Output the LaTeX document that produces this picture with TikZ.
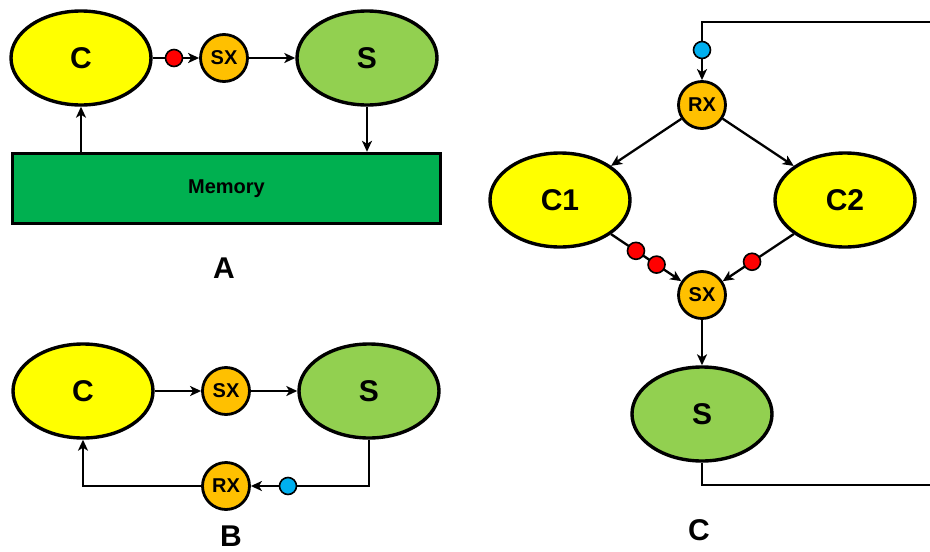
\documentclass[tikz,border=0pt]{standalone}
\usepackage{fontspec}
\setmainfont{Liberation Sans}
\usetikzlibrary{shapes.geometric,arrows.meta,calc}
\definecolor{cyel}{HTML}{FFFF00}
\definecolor{cgrn}{HTML}{92D050}
\definecolor{corg}{HTML}{FFC000}
\definecolor{cmem}{HTML}{00B050}
\definecolor{cred}{HTML}{FF0000}
\definecolor{cblu}{HTML}{00B0F0}
\tikzset{
  big/.style={ellipse,draw=black,line width=3.4pt,minimum width=140pt,minimum height=94pt,inner sep=0pt,font=\fontsize{30}{32}\selectfont\bfseries},
  cnode/.style={big,fill=cyel},
  snode/.style={big,fill=cgrn},
  xnode/.style={circle,draw=black,line width=2.8pt,fill=corg,minimum size=47pt,inner sep=0pt,font=\fontsize{20}{22}\selectfont\bfseries},
  dot/.style={circle,draw=black,line width=1.6pt,minimum size=17pt,inner sep=0pt},
  rdot/.style={dot,fill=cred},
  bdot/.style={dot,fill=cblu},
  arr/.style={line width=2.3pt,-{Stealth[length=11pt,width=10pt,inset=3pt]}},
  lab/.style={inner sep=0pt,font=\fontsize{30}{32}\selectfont\bfseries}
}
\begin{document}
\begin{tikzpicture}[x=1pt,y=-1pt]
\path[use as bounding box] (0,0) rectangle (930,552);
\clip (0,0) rectangle (930,552);
% ---------- Panel A ----------
\node[cnode] (Ca) at (81,58) {C};
\node[xnode] (SXa) at (224,58) {SX};
\node[snode] (Sa) at (367,58) {S};
\node[draw=black,line width=3.4pt,fill=cmem,minimum width=428pt,minimum height=70pt,inner sep=0pt,font=\fontsize{20}{22}\selectfont\bfseries] (Mem) at (226.5,188.5) {\raisebox{2pt}{Memory}};
\draw[arr] (Ca) -- (SXa);
\draw[arr] (SXa) -- (Sa);
\draw[arr] (Mem.north -| Ca) -- (Ca.south);
\draw[arr] (Sa.south) -- (Sa.south |- Mem.north);
\node[rdot] (ra) at (174,58) {};
\node[lab] (LA) at (224,268) {A};
% ---------- Panel B ----------
\node[cnode] (Cb) at (83,391) {C};
\node[xnode] (SXb) at (226,391) {SX};
\node[snode] (Sb) at (369,391) {S};
\node[xnode] (RXb) at (226,486) {RX};
\draw[arr] (Cb) -- (SXb);
\draw[arr] (SXb) -- (Sb);
\draw[arr] (Sb.south) |- (RXb.east);
\draw[arr] (RXb.west) -| (Cb.south);
\node[bdot] (bb) at (288,486) {};
\node[lab] (LB) at (231,536) {B};
% ---------- Panel C ----------
\node[xnode] (RXc) at (702,105) {RX};
\node[cnode] (C1) at (560,200) {C1};
\node[cnode] (C2) at (845,200) {C2};
\node[xnode] (SXc) at (702,295) {SX};
\node[snode] (Sc) at (702,414) {S};
\coordinate (br) at (940,485);
\coordinate (tr) at (940,22);
\draw[arr] (RXc) -- (C1);
\draw[arr] (RXc) -- (C2);
\draw[arr] (C1) -- (SXc);
\draw[arr] (C2) -- (SXc);
\draw[arr] (SXc) -- (Sc);
\draw[arr] (Sc.south) |- (br) -- (tr) -| (RXc.north);
\node[bdot] (bc) at (702,50) {};
\node[rdot] (r1) at ($(C1)!0.535!(SXc)$) {};
\node[rdot] (r2) at ($(C1)!0.68!(SXc)$) {};
\node[rdot] (r3) at ($(C2)!0.65!(SXc)$) {};
\node[lab] (LC) at (699,530) {C};
\end{tikzpicture}
\end{document}
